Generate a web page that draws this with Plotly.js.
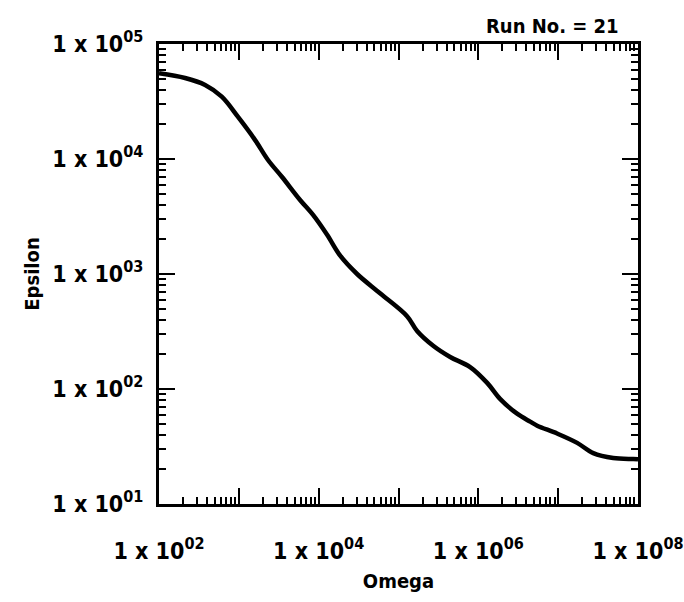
<!DOCTYPE html>
<html>
<head>
<meta charset="utf-8">
<script src="https://cdn.plot.ly/plotly-3.0.1.min.js"></script>
<style>html,body{margin:0;padding:0;background:#fff;}#chart{width:684px;height:602px;}</style>
</head>
<body>
<div id="chart"></div>
<script>
// Data (Omega vs Epsilon, log-log)
const omega = [1e2, 212, 378, 611, 977, 1600, 2320, 3480, 5850, 8510, 12700, 18500, 30300, 58700,
  128000, 171000, 272000, 444000, 789000, 1.29e6, 1.87e6, 3.06e6, 4.46e6, 5.46e6, 9.7e6,
  1.73e7, 2.75e7, 4.89e7, 8.71e7, 1e8];
const epsilon = [55600, 50600, 44000, 34800, 23200, 14600, 9800, 6970, 4400, 3260, 2200, 1450, 1000, 680,
  430, 320, 238, 190, 155, 113, 82, 61, 52, 48, 41,
  34, 27.7, 25.1, 24.6, 24.5];

const xTickVals = [1e2, 1e3, 1e4, 1e5, 1e6, 1e7, 1e8];
const xTickText = ["1 x 10<sup>02</sup>", "", "1 x 10<sup>04</sup>", "", "1 x 10<sup>06</sup>", "", "1 x 10<sup>08</sup>"];
const yTickVals = [1e1, 1e2, 1e3, 1e4, 1e5];
const yTickText = ["1 x 10<sup>01</sup>", "1 x 10<sup>02</sup>", "1 x 10<sup>03</sup>", "1 x 10<sup>04</sup>", "1 x 10<sup>05</sup>"];
const runLabel = "Run No. = 21";

const fnt = {family: "DejaVu Sans Condensed", size: 20, color: "#000", weight: "bold"};
const tickFnt = Object.assign({}, fnt, {size: 23});

const trace = {
  x: omega, y: epsilon, type: "scatter", mode: "lines",
  line: {color: "#000", width: 4.5, shape: "spline", smoothing: 1},
  hoverinfo: "skip"
};

const axisCommon = {
  type: "log", showgrid: false, zeroline: false,
  showline: true, linecolor: "#000", linewidth: 3, mirror: "ticks",
  ticks: "inside", ticklen: 16, tickwidth: 2, tickcolor: "#000",
  tickmode: "array",
  minor: {ticks: "inside", ticklen: 7, tickwidth: 2, tickcolor: "#000", dtick: "D1", showgrid: false},
  tickfont: tickFnt
};

const layout = {
  width: 684, height: 602,
  margin: {l: 159, r: 46, t: 44, b: 98},
  paper_bgcolor: "#fff", plot_bgcolor: "#fff",
  showlegend: false,
  font: fnt,
  xaxis: Object.assign({}, axisCommon, {
    range: [2, 8], tickvals: xTickVals, ticktext: xTickText,
    ticklabelstandoff: 24,
    title: {text: "Omega", font: fnt, standoff: 12}
  }),
  yaxis: Object.assign({}, axisCommon, {
    range: [1, 5], tickvals: yTickVals, ticktext: yTickText,
    ticklabelstandoff: 8,
    title: {text: "Epsilon", font: fnt, standoff: 8}
  }),
  annotations: [{
    text: runLabel, xref: "paper", yref: "paper", x: 0.965, y: 1.0,
    xanchor: "right", yanchor: "bottom", yshift: 4, showarrow: false, font: fnt
  }]
};

Plotly.newPlot("chart", [trace], layout, {staticPlot: true, displayModeBar: false});
</script>
</body>
</html>
